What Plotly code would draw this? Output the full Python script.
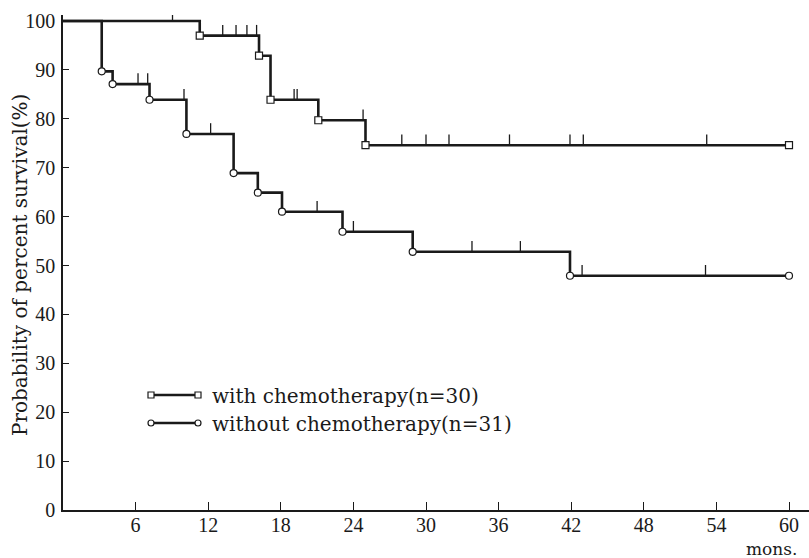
import plotly.graph_objects as go

# ---- data ----
x_tick_months = [6, 12, 18, 24, 30, 36, 42, 48, 54, 60]
y_tick_pct = [0, 10, 20, 30, 40, 50, 60, 70, 80, 90, 100]

with_label = "with chemotherapy(n=30)"
with_event_months = [11.3, 16.2, 17.15, 21.1, 25.0]
with_event_surv = [97.0, 92.9, 83.9, 79.7, 74.6]
with_censor_months = [9.05, 13.2, 14.3, 15.2, 16.0, 19.1, 19.35, 24.8,
                      28.0, 30.0, 31.9, 36.9, 41.9, 43.0, 53.2]

without_label = "without chemotherapy(n=31)"
without_event_months = [3.2, 4.1, 7.15, 10.2, 14.1, 16.1, 18.1, 23.1, 28.9, 41.9]
without_event_surv = [89.7, 87.1, 83.9, 76.9, 68.9, 64.9, 61.0, 56.9, 52.8, 47.9]
without_censor_months = [6.2, 7.0, 10.0, 12.2, 21.0, 24.0, 33.8, 37.8, 42.9, 53.1]

follow_up_end = 60

# ---- layout constants (pixels of the 809x558 page) ----
W, H = 809, 558
L, R, T, B = 63, 0, 15, 48
X_MAX = (W - L - R) / 12.1
Y_MAX = (H - T - B) / 4.89

INK = "#1a1a1a"
TICK_FONT = dict(family="Liberation Serif", size=20, color=INK)
TEXT_FONT = dict(family="DejaVu Serif", size=20, color=INK)


def surv_at(times, surv, t):
    s = 100.0
    for ti, si in zip(times, surv):
        if ti <= t:
            s = si
    return s


def censor_segments(times, surv, censors, h=2.2):
    xs, ys = [], []
    for c in censors:
        s = surv_at(times, surv, c)
        xs += [c, c, None]
        ys += [s, s + h, None]
    return xs, ys


fig = go.Figure()

groups = [
    (with_event_months, with_event_surv, with_censor_months, "square", with_label),
    (without_event_months, without_event_surv, without_censor_months, "circle", without_label),
]

for times, surv, censors, sym, name in groups:
    sx = [0] + times + [follow_up_end]
    sy = [100] + surv + [surv[-1]]
    fig.add_trace(go.Scatter(x=sx, y=sy, mode="lines", line_shape="hv",
                             line=dict(color=INK, width=2.6), name=name,
                             showlegend=False, hoverinfo="skip"))
    cx, cy = censor_segments(times, surv, censors)
    fig.add_trace(go.Scatter(x=cx, y=cy, mode="lines",
                             line=dict(color=INK, width=1.3),
                             showlegend=False, hoverinfo="skip"))
    fig.add_trace(go.Scatter(x=times + [follow_up_end], y=surv + [surv[-1]],
                             mode="markers",
                             marker=dict(symbol=sym, size=7, color="white",
                                         line=dict(color=INK, width=1.2)),
                             showlegend=False, hoverinfo="skip"))

# ---- hand-drawn legend (line with symbols at both ends) ----
def px_x(p):
    return (p - L) / (W - L - R)


def px_y(p):
    return (H - B - p) / (H - T - B)


shapes = []
annotations = []
legend_rows = [(395, "rect", with_label), (423, "circle", without_label)]
for py, kind, label in legend_rows:
    shapes.append(dict(type="line", xref="paper", yref="paper",
                       x0=px_x(152), x1=px_x(197), y0=px_y(py), y1=px_y(py),
                       line=dict(color=INK, width=2.6)))
    for cxp in (151, 198):
        shapes.append(dict(type=kind, xref="paper", yref="paper",
                           x0=px_x(cxp - 3), x1=px_x(cxp + 3),
                           y0=px_y(py + 3), y1=px_y(py - 3),
                           fillcolor="white", line=dict(color=INK, width=1.2)))
    annotations.append(dict(text=label, xref="paper", yref="paper",
                            x=px_x(210), y=px_y(py + 1), xanchor="left",
                            yanchor="middle", showarrow=False, font=TEXT_FONT))

annotations.append(dict(text="mons.", xref="paper", yref="paper",
                        x=px_x(799), y=px_y(549), xanchor="right",
                        yanchor="middle", showarrow=False,
                        font=dict(family="DejaVu Serif", size=17, color=INK)))
annotations.append(dict(text="Probability of percent survival(%)",
                        xref="paper", yref="paper", x=px_x(20), y=px_y(265),
                        xanchor="center", yanchor="middle", textangle=-90,
                        showarrow=False, font=TEXT_FONT))

fig.update_layout(
    width=W, height=H,
    margin=dict(l=L, r=R, t=T, b=B, pad=0),
    paper_bgcolor="white", plot_bgcolor="white",
    shapes=shapes, annotations=annotations,
    showlegend=False,
)
fig.update_xaxes(range=[0, X_MAX], tickvals=x_tick_months,
                 ticktext=[str(v) for v in x_tick_months],
                 ticks="inside", ticklen=8, tickwidth=1, tickcolor=INK,
                 showline=True, linecolor=INK, linewidth=2,
                 showgrid=False, zeroline=False, tickfont=TICK_FONT,
                 ticklabelstandoff=-4)
fig.update_yaxes(range=[0, Y_MAX], tickvals=y_tick_pct,
                 ticktext=[str(v) for v in y_tick_pct],
                 ticks="inside", ticklen=6, tickwidth=1, tickcolor=INK,
                 showline=True, linecolor=INK, linewidth=1.6,
                 showgrid=False, zeroline=False, tickfont=TICK_FONT,
                 ticklabelstandoff=2)

fig.write_html("out.html")
